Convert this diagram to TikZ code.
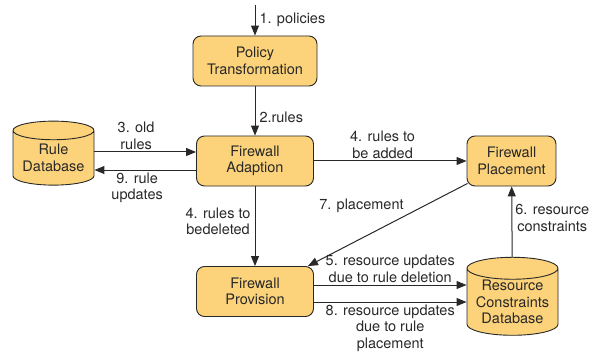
\documentclass[tikz,border=0pt]{standalone}
\usepackage{fontspec}
\setmainfont{TeX Gyre Heros}
\usepackage{tikz}
\usetikzlibrary{calc,shapes.geometric,arrows.meta}
\definecolor{boxFill}{RGB}{252,211,122}
\definecolor{inkGray}{RGB}{40,40,40}

\begin{document}
\begin{tikzpicture}[x=1pt,y=-1pt,
    every node/.style={font=\fontsize{14.5}{16.5}\selectfont, text=inkGray},
    procBox/.style={draw=inkGray, fill=boxFill, line width=0.9pt, rounded corners=8pt,
                    align=center, inner sep=0pt, minimum height=50pt},
    dbBox/.style={draw=inkGray, fill=boxFill, line width=0.9pt, cylinder,
                  shape border rotate=90, aspect=0.3, align=center, inner sep=0pt},
    flowText/.style={align=center, inner sep=2pt},
    flow/.style={draw=inkGray, line width=1pt, -{Triangle[length=10pt,width=8pt]}}]
  \useasboundingbox (0,0) rectangle (598,353);

  %% Processing steps and databases
  \node[procBox, minimum width=124pt] (POLICY)    at (255,61)    {Policy\\Transformation};
  \node[procBox, minimum width=117pt] (ADAPT)     at (255,161)   {Firewall\\Adaption};
  \node[procBox, minimum width=117pt] (PROVISION) at (255,291.5) {Firewall\\Provision};
  \node[procBox, minimum width=89pt]  (PLACE)     at (511.5,161) {Firewall\\Placement};
  \node[dbBox, minimum width=81pt, minimum height=64pt] (RULEDB) at (53.5,158) {Rule\\Database};
  \node[dbBox, minimum width=91pt, minimum height=78pt] (RESDB)  at (512.5,302)
       {Resource\\Constraints\\Database};

  %% Incoming policies
  \coordinate (INPUT) at (255,5);
  \draw[flow] (INPUT) -- (POLICY) node[flowText, midway, right, xshift=2pt] {1. policies};
  \draw[flow] (POLICY) -- (ADAPT) node[flowText, pos=0.62, right, xshift=2pt] {2.rules};

  %% Rule database exchange
  \draw[flow] ([yshift=9pt]ADAPT.west -| RULEDB.east) -- ([yshift=9pt]ADAPT.west)
        node[flowText, pos=0.41, above] {3. old\\rules};
  \draw[flow] ([yshift=-9pt]ADAPT.west) -- ([yshift=-9pt]ADAPT.west -| RULEDB.east)
        node[flowText, pos=0.58, below] {9. rule\\updates};

  %% Rules to add and to delete
  \draw[flow] (ADAPT) -- (PLACE) node[flowText, pos=0.45, above] {4. rules to\\be added};
  \draw[flow] (ADAPT) -- (PROVISION)
        node[flowText, pos=0.44, left, xshift=-2pt] {4. rules to\\bedeleted};

  %% Placement and resources
  \draw[flow] ([xshift=1pt,yshift=3pt]PLACE.south west) -- ([xshift=-6pt]PROVISION.north east)
        node[flowText, pos=0.385, anchor=south east] {7. placement};
  \draw[flow] ([yshift=6.5pt]PROVISION.east) -- ([yshift=6.5pt]PROVISION.east -| RESDB.west)
        node[flowText, midway, above] {5. resource updates\\due to rule deletion};
  \draw[flow] ([yshift=-10.5pt]PROVISION.east) -- ([yshift=-10.5pt]PROVISION.east -| RESDB.west)
        node[flowText, midway, below] {8. resource updates\\due to rule\\placement};
  \draw[flow] (RESDB) -- (PLACE)
        node[flowText, pos=0.55, right, xshift=1pt] {6. resource\\constraints};
\end{tikzpicture}
\end{document}
